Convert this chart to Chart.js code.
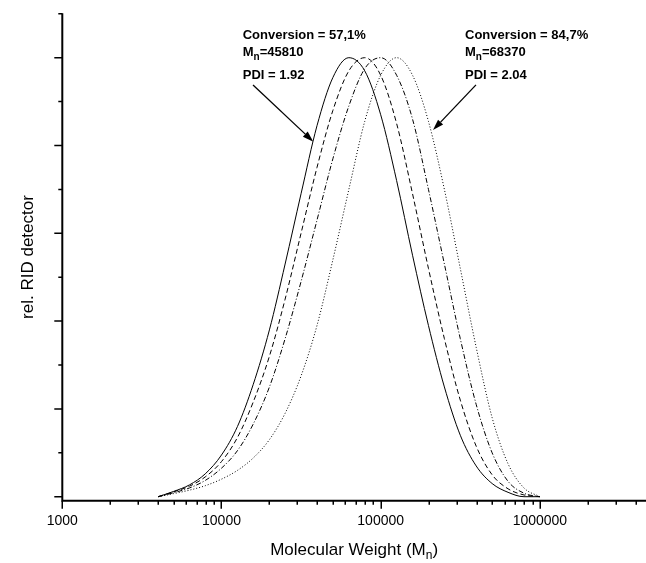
<!DOCTYPE html>
<html><head><meta charset="utf-8">
<script src="https://cdn.jsdelivr.net/npm/chart.js@4.4.0/dist/chart.umd.min.js"></script>
<style>html,body{margin:0;padding:0;background:#fff;overflow:hidden}#wrap{width:646px;height:563px;position:relative}</style>
</head><body><div id="wrap"><canvas id="c"></canvas></div>
<script>
// Molecular weight sampling grid (x values)
const molWeights = [4000, 5000, 6300, 7900, 10000, 12600, 15800, 20000, 25100, 31600, 39800, 50100, 63100, 79400, 100000, 125900, 158500, 199500, 251200, 316200, 398100, 501200, 631000, 794300, 1000000];
// relative RID detector signal per curve
const solidY   = [0, 0.012, 0.027, 0.052, 0.095, 0.16, 0.255, 0.38, 0.53, 0.69, 0.845, 0.955, 1.0, 0.97, 0.87, 0.72, 0.55, 0.39, 0.25, 0.14, 0.07, 0.03, 0.01, 0, 0];
const dashedY  = [0, 0.011, 0.024, 0.045, 0.08, 0.135, 0.215, 0.32, 0.45, 0.60, 0.75, 0.88, 0.97, 1.0, 0.96, 0.85, 0.69, 0.52, 0.36, 0.22, 0.115, 0.05, 0.018, 0.004, 0];
const dashDotY = [0, 0.009, 0.02, 0.037, 0.065, 0.105, 0.165, 0.25, 0.36, 0.49, 0.63, 0.77, 0.89, 0.975, 1.0, 0.96, 0.86, 0.70, 0.53, 0.36, 0.21, 0.10, 0.035, 0.008, 0];
const dottedY  = [0, 0.007, 0.015, 0.025, 0.04, 0.06, 0.088, 0.13, 0.19, 0.275, 0.39, 0.54, 0.70, 0.855, 0.96, 1.0, 0.96, 0.855, 0.70, 0.52, 0.34, 0.18, 0.075, 0.02, 0];
const xTickLabels = [1000, 10000, 100000, 1000000];
const xTitle = ['Molecular Weight (M', 'n', ')'];
const yTitle = 'rel. RID detector';
const noteLeft  = ['Conversion = 57,1%', '45810', 'PDI = 1.92'];
const noteRight = ['Conversion = 84,7%', '68370', 'PDI = 2.04'];

const FONT = '"Liberation Sans", Arial, sans-serif';

function pts(ys){ return molWeights.map((m,i)=>({x:m, y:ys[i]})); }

const notes = [
  {lines: noteLeft,  textX: 13590, arrowFrom:[15780, 0.938], arrowTo:[37730, 0.8087]},
  {lines: noteRight, textX: 338500, arrowFrom:[396800, 0.938], arrowTo:[213100, 0.835]}
];
const rowY = [1.0512, 1.0118, 0.9605];

const decor = {
  id: 'decor',
  afterDatasetsDraw(chart){
    const {ctx, chartArea:a, scales:{x, y}} = chart;
    ctx.save();
    ctx.strokeStyle = '#000'; ctx.fillStyle = '#000';
    ctx.lineWidth = 2;
    ctx.beginPath(); ctx.moveTo(a.left, a.top); ctx.lineTo(a.left, a.bottom); ctx.lineTo(a.right, a.bottom); ctx.stroke();
    ctx.lineWidth = 1.5;
    ctx.beginPath();
    for (let d = 1000; d <= x.max; d *= 10){
      for (let k = 1; k < 10; k++){
        const v = d*k; if (v > x.max) break;
        const px = Math.round(x.getPixelForValue(v)) + 0.25;
        ctx.moveTo(px, a.bottom); ctx.lineTo(px, a.bottom + (k===1 ? 8 : 4));
      }
    }
    for (let i = 0; i <= 11; i++){
      const py = y.getPixelForValue(i/10);
      ctx.moveTo(a.left, py); ctx.lineTo(a.left - (i%2===0 ? 8 : 4), py);
    }
    ctx.stroke();
    ctx.textBaseline = 'middle'; ctx.textAlign = 'left';
    notes.forEach(n => {
      const tx = x.getPixelForValue(n.textX);
      ctx.font = 'bold 13px ' + FONT;
      ctx.fillText(n.lines[0], tx, y.getPixelForValue(rowY[0]));
      const y1 = y.getPixelForValue(rowY[1]);
      ctx.fillText('M', tx, y1);
      const wM = ctx.measureText('M').width;
      ctx.font = 'bold 10px ' + FONT;
      ctx.fillText('n', tx + wM, y1 + 5);
      const wn = ctx.measureText('n').width;
      ctx.font = 'bold 13px ' + FONT;
      ctx.fillText('=' + n.lines[1], tx + wM + wn, y1);
      ctx.fillText(n.lines[2], tx, y.getPixelForValue(rowY[2]));
      const x0 = x.getPixelForValue(n.arrowFrom[0]), y0 = y.getPixelForValue(n.arrowFrom[1]);
      const x1 = x.getPixelForValue(n.arrowTo[0]),  y1a = y.getPixelForValue(n.arrowTo[1]);
      const ang = Math.atan2(y1a - y0, x1 - x0);
      const L = 11, W = 3.5;
      const bx = x1 - L*Math.cos(ang), by = y1a - L*Math.sin(ang);
      ctx.lineWidth = 1.3;
      ctx.beginPath(); ctx.moveTo(x0, y0); ctx.lineTo(bx, by); ctx.stroke();
      ctx.beginPath();
      ctx.moveTo(x1, y1a);
      ctx.lineTo(bx + W*Math.sin(ang), by - W*Math.cos(ang));
      ctx.lineTo(bx - W*Math.sin(ang), by + W*Math.cos(ang));
      ctx.closePath(); ctx.fill();
    });
    ctx.font = '17px ' + FONT;
    ctx.textBaseline = 'alphabetic';
    const w1 = ctx.measureText(xTitle[0]).width;
    ctx.font = '12px ' + FONT; const w2 = ctx.measureText(xTitle[1]).width;
    ctx.font = '17px ' + FONT; const w3 = ctx.measureText(xTitle[2]).width;
    let sx = (a.left + a.right)/2 - (w1 + w2 + w3)/2;
    const by0 = 555;
    ctx.fillText(xTitle[0], sx, by0);
    ctx.font = '12px ' + FONT; ctx.fillText(xTitle[1], sx + w1, by0 + 4);
    ctx.font = '17px ' + FONT; ctx.fillText(xTitle[2], sx + w1 + w2, by0);
    ctx.save();
    ctx.translate(28, (a.top + a.bottom)/2);
    ctx.rotate(-Math.PI/2);
    ctx.textAlign = 'center'; ctx.textBaseline = 'middle';
    ctx.fillText(yTitle, 0, 0);
    ctx.restore();
    ctx.restore();
  }
};

const ds = (label, ys, dash) => ({
  label, data: pts(ys), showLine: true, borderColor: '#000', borderWidth: 1,
  borderDash: dash, pointRadius: 0, fill: false, cubicInterpolationMode: 'monotone'
});

new Chart(document.getElementById('c'), {
  type: 'scatter',
  data: { datasets: [
    ds('57,1%', solidY, []),
    ds('b', dashedY, [5, 3]),
    ds('c', dashDotY, [5, 2, 1, 2]),
    ds('84,7%', dottedY, [1, 2])
  ]},
  options: {
    responsive: true, maintainAspectRatio: false, animation: false, devicePixelRatio: 1,
    layout: { padding: { top: 13.3, left: 0, right: 0, bottom: 0 } },
    plugins: { legend: { display: false }, tooltip: { enabled: false } },
    scales: {
      x: {
        type: 'logarithmic', min: 1000, max: 4640000,
        afterBuildTicks: s => { s.ticks = xTickLabels.map(v => ({value: v})); },
        afterFit: s => { s.height = 62.3; s.paddingLeft = 0; s.paddingRight = 0; },
        grid: { display: false, drawTicks: false }, border: { display: false },
        ticks: { color: '#000', font: { size: 14, family: FONT }, padding: 12, maxRotation: 0, autoSkip: false,
                 callback: v => String(v) }
      },
      y: {
        type: 'linear', min: -0.0091, max: 1.1011,
        afterFit: s => { s.width = 62.3; },
        grid: { display: false, drawTicks: false }, border: { display: false },
        ticks: { display: false }
      }
    }
  },
  plugins: [decor]
});
</script></body></html>
